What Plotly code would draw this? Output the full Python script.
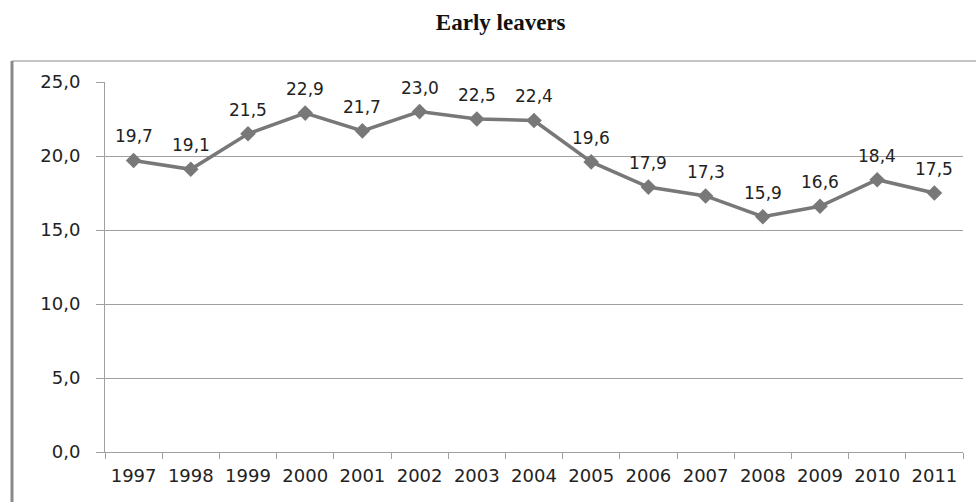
import plotly.graph_objects as go

years = ["1997", "1998", "1999", "2000", "2001", "2002", "2003", "2004",
         "2005", "2006", "2007", "2008", "2009", "2010", "2011"]
early_leavers = [19.7, 19.1, 21.5, 22.9, 21.7, 23.0, 22.5, 22.4,
                 19.6, 17.9, 17.3, 15.9, 16.6, 18.4, 17.5]
y_ticks = [0, 5, 10, 15, 20, 25]

line_color = "#787878"
grid_color = "#a0a0a0"
text_color = "#222222"
font_family = "DejaVu Sans"

# plot area in pixels: left 105, right 963, top 82, bottom 452
plot_w, plot_h = 858, 370

fig = go.Figure()
fig.add_trace(go.Scatter(
    x=years,
    y=early_leavers,
    mode="lines+markers",
    line=dict(color=line_color, width=3.5),
    marker=dict(symbol="diamond", size=12, color=line_color),
    cliponaxis=False,
    hoverinfo="skip",
))

# value labels above each point (x given as category index)
for i, v in enumerate(early_leavers):
    fig.add_annotation(
        x=i, y=v, xref="x", yref="y",
        text=f"{v:.1f}".replace(".", ","),
        showarrow=False, yshift=24, yanchor="middle",
        font=dict(family=font_family, size=17, color=text_color),
    )

fig.update_layout(
    width=976,
    height=502,
    margin=dict(l=105, r=13, t=82, b=50),
    paper_bgcolor="white",
    plot_bgcolor="white",
    separators=", ",
    showlegend=False,
    title=dict(
        text="<b>Early leavers</b>",
        x=0.513,
        xanchor="center",
        y=1 - 22 / 502,
        yanchor="middle",
        font=dict(family="Liberation Serif", size=23, color="#111111"),
    ),
    xaxis=dict(
        type="category",
        showgrid=False,
        showline=True,
        linecolor=grid_color,
        linewidth=1,
        ticks="outside",
        tickson="boundaries",
        ticklen=6,
        tickcolor=grid_color,
        tickfont=dict(family=font_family, size=18, color=text_color),
        ticklabelstandoff=7,
        range=[-0.5, len(years) - 0.5],
    ),
    yaxis=dict(
        range=[0, 25],
        tickvals=y_ticks,
        tickformat=".1f",
        showgrid=True,
        gridcolor=grid_color,
        gridwidth=1,
        showline=True,
        linecolor=grid_color,
        linewidth=1,
        ticks="outside",
        ticklen=8,
        tickcolor=grid_color,
        zeroline=False,
        tickfont=dict(family=font_family, size=18, color=text_color),
        ticklabelstandoff=12,
    ),
    shapes=[
        # chart frame: thin top edge and heavier left edge
        dict(type="line", xref="paper", yref="paper",
             x0=-93 / plot_w, x1=1.02, y0=1 + 21 / plot_h, y1=1 + 21 / plot_h,
             line=dict(color="#8a8a8a", width=1)),
        dict(type="line", xref="paper", yref="paper",
             x0=-93 / plot_w, x1=-93 / plot_w, y0=1 + 21 / plot_h, y1=-0.2,
             line=dict(color="#8a8a8a", width=3)),
    ],
)

fig.write_html("out.html")
